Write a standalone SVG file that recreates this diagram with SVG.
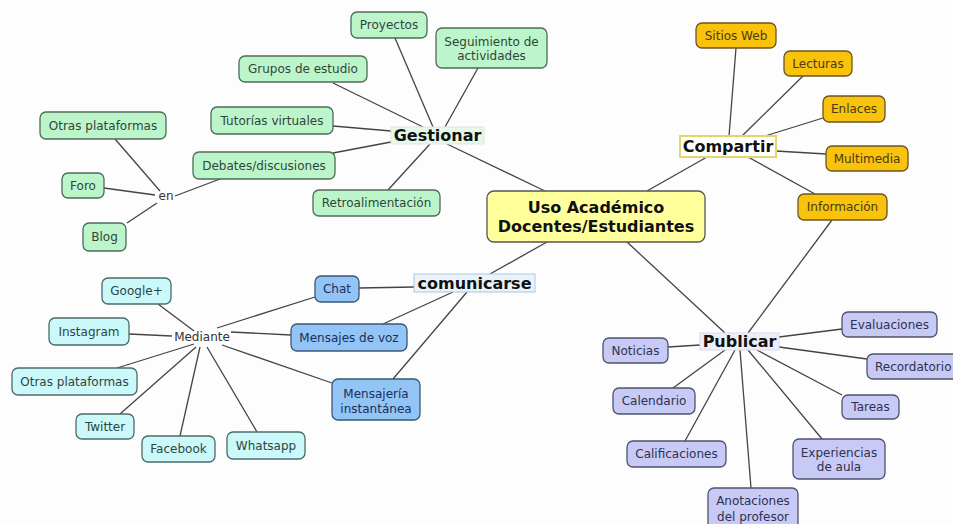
<svg xmlns="http://www.w3.org/2000/svg" width="953" height="524" viewBox="0 0 953 524">
<style>
text{font-family:"DejaVu Sans",Verdana,sans-serif;font-size:12px;text-anchor:middle;dominant-baseline:central}
.g rect{fill:#bdf5cb;stroke:#4d6b57;stroke-width:1.3}
.g text{fill:#2e4638}
.o rect{fill:#f9c20c;stroke:#6b5520;stroke-width:1.3}
.o text{fill:#4a3a10}
.c rect{fill:#cbf8f8;stroke:#4b6b6b;stroke-width:1.3}
.c text{fill:#2f4444}
.b rect{fill:#92c4f5;stroke:#3c5678;stroke-width:1.3}
.b text{fill:#1c2f5a}
.p rect{fill:#c8caf6;stroke:#50526e;stroke-width:1.3}
.p text{fill:#2f3150}
.lbl{fill:#333}
.hub text{font-weight:bold;font-size:16px;fill:#111}
#links line{stroke:#444;stroke-width:1.3}
</style>
<rect width="953" height="524" fill="#fdfdfd"/>
<g id="links">
<line x1="395" y1="38" x2="433" y2="127"/>
<line x1="478" y1="68" x2="445" y2="127"/>
<line x1="333" y1="83" x2="423" y2="127"/>
<line x1="333" y1="126" x2="391" y2="131"/>
<line x1="333" y1="153" x2="391" y2="142"/>
<line x1="388" y1="190" x2="430" y2="144"/>
<line x1="447" y1="144" x2="545" y2="191"/>
<line x1="115" y1="139" x2="160" y2="191"/>
<line x1="104" y1="188" x2="155" y2="195"/>
<line x1="127" y1="223" x2="157" y2="203"/>
<line x1="175" y1="196" x2="220" y2="179"/>
<line x1="736" y1="48" x2="729" y2="136"/>
<line x1="803" y1="76" x2="742" y2="136"/>
<line x1="823" y1="118" x2="765" y2="136"/>
<line x1="826" y1="154" x2="776" y2="151"/>
<line x1="815" y1="194" x2="748" y2="157"/>
<line x1="707" y1="157" x2="647" y2="191"/>
<line x1="832" y1="220" x2="748" y2="333"/>
<line x1="627" y1="242" x2="725" y2="333"/>
<line x1="547" y1="242" x2="490" y2="274"/>
<line x1="359" y1="288" x2="414" y2="287"/>
<line x1="453" y1="292" x2="383" y2="324"/>
<line x1="467" y1="292" x2="393" y2="379"/>
<line x1="217" y1="328" x2="315" y2="297"/>
<line x1="231" y1="332" x2="291" y2="335"/>
<line x1="222" y1="345" x2="332" y2="383"/>
<line x1="158" y1="304" x2="194" y2="331"/>
<line x1="129" y1="334" x2="172" y2="336"/>
<line x1="117" y1="368" x2="194" y2="344"/>
<line x1="120" y1="414" x2="196" y2="347"/>
<line x1="180" y1="436" x2="200" y2="347"/>
<line x1="257" y1="432" x2="207" y2="347"/>
<line x1="779" y1="337" x2="842" y2="329"/>
<line x1="779" y1="347" x2="867" y2="359"/>
<line x1="668" y1="347" x2="700" y2="345"/>
<line x1="725" y1="350" x2="673" y2="388"/>
<line x1="735" y1="350" x2="685" y2="441"/>
<line x1="740" y1="350" x2="751" y2="488"/>
<line x1="748" y1="350" x2="822" y2="439"/>
<line x1="757" y1="350" x2="842" y2="395"/>
</g>
<g id="uso" class="hub"><rect x="487" y="191" width="218" height="51" rx="7" fill="#ffff9c" stroke="#555" stroke-width="1.3"/>
<text x="596" y="207">Uso Académico</text>
<text x="596" y="226">Docentes/Estudiantes</text></g>
<g id="gestionar" class="hub"><rect x="391" y="127" width="93" height="17" fill="#e5f8ea" stroke="#d5ecda"/><text x="437.5" y="135.5">Gestionar</text></g>
<g id="compartir" class="hub"><rect x="680" y="136" width="96" height="21" fill="#fff" stroke="#e6d56a" stroke-width="2"/><text x="728" y="146.5">Compartir</text></g>
<g id="comunicarse" class="hub"><rect x="414" y="274" width="121" height="18" fill="#eaf2fa" stroke="#a9c8e2"/><text x="474.5" y="283">comunicarse</text></g>
<g id="publicar" class="hub"><rect x="700" y="333" width="79" height="17" fill="#eeeef8" stroke="#d8d8ea"/><text x="739.5" y="341.5">Publicar</text></g>
<g id="en"><text class="lbl" x="166" y="196">en</text></g>
<g id="mediante"><text class="lbl" x="202" y="337">Mediante</text></g>
<g class="g">
<g id="proyectos"><rect x="351" y="12" width="76" height="26" rx="6"/><text x="389" y="25">Proyectos</text></g>
<g id="seguimiento"><rect x="436" y="28" width="111" height="40" rx="6"/><text x="491.5" y="41.5">Seguimiento de</text><text x="491.5" y="55.5">actividades</text></g>
<g id="grupos"><rect x="239" y="56" width="128" height="26" rx="6"/><text x="303" y="69">Grupos de estudio</text></g>
<g id="tutorias"><rect x="211" y="107" width="122" height="27" rx="6"/><text x="272" y="120.5">Tutorías virtuales</text></g>
<g id="otras1"><rect x="40" y="112" width="126" height="27" rx="6"/><text x="103" y="125.5">Otras plataformas</text></g>
<g id="debates"><rect x="193" y="152" width="142" height="27" rx="6"/><text x="264" y="165.5">Debates/discusiones</text></g>
<g id="foro"><rect x="62" y="173" width="42" height="25" rx="6"/><text x="83" y="185.5">Foro</text></g>
<g id="retro"><rect x="313" y="190" width="127" height="26" rx="6"/><text x="376.5" y="203">Retroalimentación</text></g>
<g id="blog"><rect x="83" y="223" width="43" height="28" rx="6"/><text x="104.5" y="237">Blog</text></g>
</g>
<g class="o">
<g id="sitios"><rect x="696" y="23" width="80" height="25" rx="6"/><text x="736" y="35.5">Sitios Web</text></g>
<g id="lecturas"><rect x="784" y="51" width="68" height="25" rx="6"/><text x="818" y="63.5">Lecturas</text></g>
<g id="enlaces"><rect x="823" y="96" width="62" height="26" rx="6"/><text x="854" y="109">Enlaces</text></g>
<g id="multimedia"><rect x="826" y="146" width="82" height="25" rx="6"/><text x="867" y="158.5">Multimedia</text></g>
<g id="informacion"><rect x="798" y="194" width="89" height="26" rx="6"/><text x="842.5" y="207">Información</text></g>
</g>
<g class="c">
<g id="google"><rect x="102" y="278" width="69" height="26" rx="6"/><text x="136.5" y="291">Google+</text></g>
<g id="instagram"><rect x="49" y="318" width="80" height="27" rx="6"/><text x="89" y="331.5">Instagram</text></g>
<g id="otras2"><rect x="12" y="368" width="125" height="27" rx="6"/><text x="74.5" y="381.5">Otras plataformas</text></g>
<g id="twitter"><rect x="76" y="414" width="58" height="25" rx="6"/><text x="105" y="426.5">Twitter</text></g>
<g id="facebook"><rect x="142" y="436" width="73" height="26" rx="6"/><text x="178.5" y="449">Facebook</text></g>
<g id="whatsapp"><rect x="227" y="432" width="78" height="27" rx="6"/><text x="266" y="445.5">Whatsapp</text></g>
</g>
<g class="b">
<g id="chat"><rect x="315" y="276" width="44" height="26" rx="6"/><text x="337" y="289">Chat</text></g>
<g id="voz"><rect x="291" y="324" width="116" height="27" rx="6"/><text x="349" y="337.5">Mensajes de voz</text></g>
<g id="mensajeria"><rect x="332" y="379" width="88" height="41" rx="6"/><text x="376" y="394">Mensajería</text><text x="376" y="408.5">instantánea</text></g>
</g>
<g class="p">
<g id="evaluaciones"><rect x="842" y="312" width="95" height="25" rx="6"/><text x="889.5" y="324.5">Evaluaciones</text></g>
<g id="noticias"><rect x="603" y="338" width="65" height="25" rx="6"/><text x="635.5" y="350.5">Noticias</text></g>
<g id="recordatorio"><rect x="867" y="354" width="100" height="25" rx="6"/><text x="875" y="366.5" style="text-anchor:start">Recordatorio</text></g>
<g id="calendario"><rect x="613" y="388" width="82" height="26" rx="6"/><text x="654" y="401">Calendario</text></g>
<g id="tareas"><rect x="842" y="395" width="57" height="24" rx="6"/><text x="870.5" y="407">Tareas</text></g>
<g id="calificaciones"><rect x="627" y="441" width="99" height="26" rx="6"/><text x="676.5" y="454">Calificaciones</text></g>
<g id="experiencias"><rect x="793" y="439" width="92" height="40" rx="6"/><text x="839" y="452.5">Experiencias</text><text x="839" y="467">de aula</text></g>
<g id="anotaciones"><rect x="708" y="488" width="90" height="48" rx="6"/><text x="753" y="501">Anotaciones</text><text x="753" y="517">del profesor</text></g>
</g>
</svg>
